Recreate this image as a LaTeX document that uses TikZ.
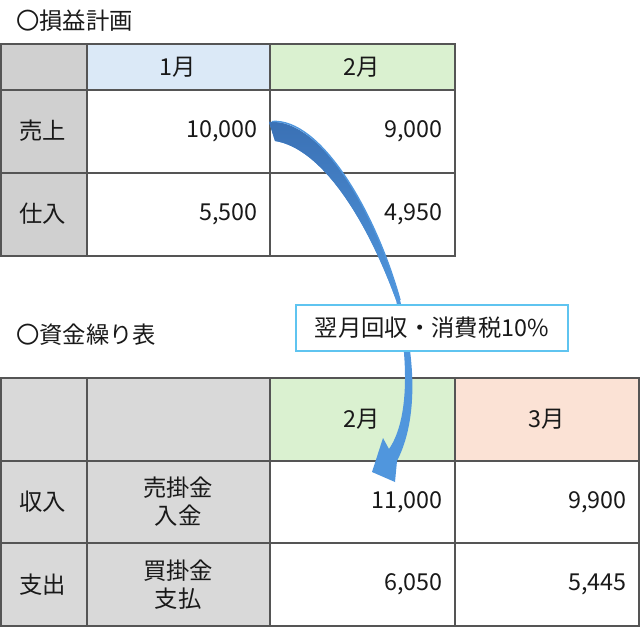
\documentclass[tikz,border=0pt]{standalone}
\usepackage{fontspec}
\setmainfont{Noto Sans CJK JP}
\definecolor{gridc}{RGB}{85,85,85}
\definecolor{grayA}{RGB}{208,208,208}
\definecolor{grayB}{RGB}{217,217,217}
\definecolor{hblue}{RGB}{219,233,247}
\definecolor{hgreen}{RGB}{218,241,208}
\definecolor{hpeach}{RGB}{251,226,213}
\definecolor{arrowlight}{RGB}{80,150,221}
\definecolor{arrowdark}{RGB}{58,112,180}
\definecolor{boxc}{RGB}{95,196,240}
\definecolor{txt}{RGB}{25,25,25}
\begin{document}
\begin{tikzpicture}[x=0.75pt,y=-0.75pt,
  gridline/.style={draw=gridc,line width=1pt},
  lbl/.style={text=txt,inner sep=0pt,font=\fontsize{17.5pt}{21pt}\selectfont},
  num/.style={lbl,anchor=east},
  title/.style={lbl,anchor=west},
  notebox/.style={lbl,draw=boxc,fill=white,line width=1.1pt,minimum width=204pt,minimum height=34.5pt}]
\useasboundingbox (0,0) rectangle (640,629);
% ---------- top table ----------
\fill[grayA] (1,44) rectangle (87,256);
\fill[hblue] (87,44) rectangle (270,90);
\fill[hgreen] (270,44) rectangle (455,90);
\draw[gridline] (1,44) rectangle (455,256);
\draw[gridline] (87,44) -- (87,256) (270,44) -- (270,256);
\draw[gridline] (1,90) -- (455,90) (1,173) -- (455,173);
% ---------- bottom table ----------
\fill[grayB] (1,378) rectangle (270,626);
\fill[hgreen] (270,378) rectangle (455,461);
\fill[hpeach] (455,378) rectangle (639,461);
\draw[gridline] (1,378) rectangle (639,626);
\draw[gridline] (87,378) -- (87,626) (270,378) -- (270,626) (455,378) -- (455,626);
\draw[gridline] (1,461) -- (639,461) (1,543) -- (639,543);
% ---------- curved arrow ----------
\fill[arrowlight] (269,122) .. controls (320,118) and (375,210) .. (400,300)
  .. controls (416,360) and (418,420) .. (397,461)
  -- (395,482) -- (372,472) -- (383,438) -- (389,449)
  .. controls (409,420) and (409,360) .. (396,300)
  .. controls (365,215) and (320,148) .. (275,141) -- cycle;
\shade[top color=arrowdark,middle color=arrowdark,bottom color=arrowlight]
  (269,122) .. controls (320,118) and (375,210) .. (400,300)
  -- (396,300) .. controls (365,215) and (320,148) .. (275,141) -- cycle;
\draw[arrowlight,line width=1.1pt] (272,121.5) .. controls (320,118) and (375,210) .. (400,300);
% ---------- note box ----------
\node[notebox] (note) at (432,328) {翌月回収・消費税10\%};
% ---------- titles ----------
\node[title] (t1) at (16,21) {〇損益計画};
\node[title] (t2) at (16,335) {〇資金繰り表};
% ---------- top table texts ----------
\node[lbl] (h1) at (178,67) {1月};
\node[lbl] (h2) at (362,67) {2月};
\node[lbl] (r1) at (43,131) {売上};
\node[lbl] (r2) at (43,214) {仕入};
\node[num] (v11) at (258,131) {10,000};
\node[num] (v12) at (443,131) {9,000};
\node[num] (v21) at (258,214) {5,500};
\node[num] (v22) at (443,214) {4,950};
% ---------- bottom table texts ----------
\node[lbl] (b1) at (362,419.5) {2月};
\node[lbl] (b2) at (547,419.5) {3月};
\node[lbl] (c1) at (43,502) {収入};
\node[lbl] (c2) at (43,584.5) {支出};
\node[lbl,align=center] (d1) at (178,502) {売掛金\\入金};
\node[lbl,align=center] (d2) at (178,584.5) {買掛金\\支払};
\node[num] (w11) at (443,502) {11,000};
\node[num] (w12) at (627,502) {9,900};
\node[num] (w21) at (443,584.5) {6,050};
\node[num] (w22) at (627,584.5) {5,445};
\end{tikzpicture}
\end{document}
